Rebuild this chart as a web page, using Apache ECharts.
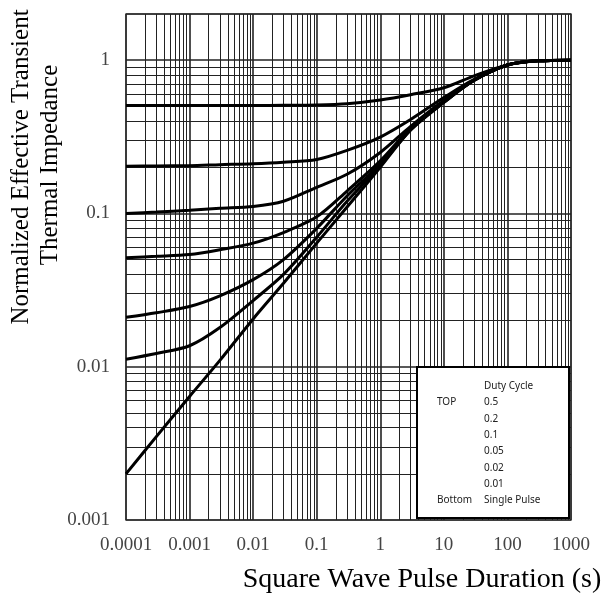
<html>
<head>
    <script src="https://cdn.jsdelivr.net/npm/echarts@6.0.0/dist/echarts.min.js"></script>
    <style>
        body { margin: 0 }
        #chart { width: 604px; height: 600px; }
    </style>
</head>
<body>
    <div id="chart"></div>
    <script>
        // pulse duration (s)
        const xs = [0.0001, 0.0003, 0.001, 0.003, 0.01, 0.03, 0.1, 0.3, 1, 3, 10, 30, 100, 300, 1000];

        // normalized impedance, one array per duty cycle
        const d05 = [0.505, 0.505, 0.505, 0.505, 0.505, 0.507, 0.51, 0.52, 0.55, 0.595, 0.66, 0.79, 0.93, 0.99, 1.0];
        const d02 = [0.203, 0.204, 0.205, 0.208, 0.211, 0.216, 0.225, 0.258, 0.315, 0.41, 0.57, 0.75, 0.93, 0.99, 1.0];
        const d01 = [0.1, 0.102, 0.105, 0.108, 0.111, 0.12, 0.148, 0.18, 0.25, 0.37, 0.545, 0.74, 0.93, 0.99, 1.0];
        const d005 = [0.0514, 0.0525, 0.054, 0.058, 0.064, 0.075, 0.095, 0.14, 0.22, 0.36, 0.54, 0.74, 0.93, 0.99, 1.0];
        const d002 = [0.021, 0.0225, 0.0247, 0.029, 0.037, 0.05, 0.08, 0.13, 0.21, 0.355, 0.535, 0.74, 0.93, 0.99, 1.0];
        const d001 = [0.0112, 0.0122, 0.0137, 0.018, 0.027, 0.04, 0.07, 0.12, 0.205, 0.35, 0.53, 0.74, 0.93, 0.99, 1.0];
        const single = [0.002, 0.0035, 0.0064, 0.011, 0.0205, 0.035, 0.064, 0.11, 0.2, 0.35, 0.53, 0.74, 0.93, 0.99, 1.0];

        const seriesNames = ['0.5', '0.2', '0.1', '0.05', '0.02', '0.01', 'Single Pulse'];
        const seriesValues = [d05, d02, d01, d005, d002, d001, single];

        const xTickLabels = ['0.0001', '0.001', '0.01', '0.1', '1', '10', '100', '1000'];
        const yTickLabels = ['0.001', '0.01', '0.1', '1'];

        const chart = echarts.init(document.getElementById('chart'));

        const tickFormatter = (labels) => (v) => {
            const hit = labels.find(l => Math.abs(Math.log10(+l) - Math.log10(v)) < 1e-6);
            return hit || '';
        };

        const gridLine = { color: '#222', width: 1 };
        const decadeLine = { color: '#222', width: 1.6 };
        const tickFont = { fontFamily: 'Liberation Serif', fontSize: 19, color: '#444' };

        // legend box as plain text, laid out like the source
        const legendX = 417, legendY = 367;
        const legendTexts = [{ text: 'Duty Cycle', x: 484, y: 386 }];
        seriesNames.forEach((n, i) => legendTexts.push({ text: n, x: 484, y: 402.5 + i * 16.3 }));
        legendTexts.push({ text: 'TOP', x: 437, y: 402.5 });
        legendTexts.push({ text: 'Bottom', x: 437, y: 402.5 + 6 * 16.3 });

        const option = {
            animation: false,
            grid: {
                left: 126, top: 14, right: 33, bottom: 80,
                show: true, borderColor: '#999', borderWidth: 2
            },
            xAxis: {
                type: 'log', logBase: 10, min: 0.0001, max: 1000,
                axisLine: { show: false },
                axisTick: { show: false },
                axisLabel: { ...tickFont, margin: 11, formatter: tickFormatter(xTickLabels) },
                splitLine: { show: true, lineStyle: decadeLine },
                minorTick: { show: false, splitNumber: 9 },
                minorSplitLine: { show: true, lineStyle: gridLine }
            },
            yAxis: {
                type: 'log', logBase: 10, min: 0.001, max: 2,
                axisLine: { show: false },
                axisTick: { show: false },
                axisLabel: { ...tickFont, margin: 16, showMaxLabel: false, formatter: tickFormatter(yTickLabels) },
                splitLine: { show: true, lineStyle: decadeLine },
                minorTick: { show: false, splitNumber: 9 },
                minorSplitLine: { show: true, lineStyle: gridLine }
            },
            series: seriesNames.map((name, i) => ({
                name: name,
                type: 'line',
                data: xs.map((x, j) => [x, seriesValues[i][j]]),
                showSymbol: false,
                smooth: 0.3,
                lineStyle: { color: '#000', width: 3 },
                z: 5
            })),
            graphic: [
                {
                    type: 'text', x: 21, y: 167, rotation: Math.PI / 2,
                    style: { text: 'Normalized Effective Transient', font: '25px "Liberation Serif"', fill: '#000', align: 'center', verticalAlign: 'middle' }
                },
                {
                    type: 'text', x: 50, y: 165, rotation: Math.PI / 2,
                    style: { text: 'Thermal Impedance', font: '25px "Liberation Serif"', fill: '#000', align: 'center', verticalAlign: 'middle' }
                },
                {
                    type: 'text', x: 422, y: 580,
                    style: { text: 'Square Wave Pulse Duration (s)', font: '28px "Liberation Serif"', fill: '#000', align: 'center', verticalAlign: 'middle' }
                },
                {
                    type: 'rect', z: 100,
                    shape: { x: legendX, y: legendY, width: 152, height: 151 },
                    style: { fill: '#fff', stroke: '#000', lineWidth: 2 }
                },
                ...legendTexts.map(t => ({
                    type: 'text', z: 101, x: t.x, y: t.y,
                    style: { text: t.text, font: '10px "Noto Sans"', fill: '#222', align: 'left', verticalAlign: 'middle' }
                }))
            ]
        };

        chart.setOption(option);
    </script>
</body>
</html>
